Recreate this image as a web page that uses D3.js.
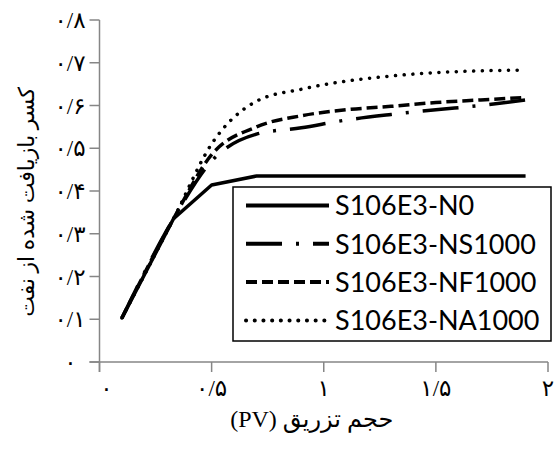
<!DOCTYPE html>
<html>
<head>
<meta charset="utf-8">
<script src="https://cdn.jsdelivr.net/npm/d3@7"></script>
<style>
  body { margin: 0; background: #fff; }
  .tick-label { font-family: "Liberation Serif", "DejaVu Sans", serif; font-size: 23px; fill: #000; }
  .axis-title { font-family: "Liberation Serif", "DejaVu Sans", serif; font-size: 22px; fill: #000; }
  .legend-text { font-family: Lato, "Open Sans", sans-serif; font-size: 27px; fill: #000; }
</style>
</head>
<body>
<script>
const width = 558;
const height = 450;

// injected pore volume (x) and recovered oil fraction (y)
const pv = [0.1, 0.33, 0.5, 0.7, 0.9, 1.1, 1.3, 1.5, 1.7, 1.9];
const pvN0 = [0.1, 0.33, 0.5, 0.7, 1.9];
const recN0 = [0.103, 0.335, 0.414, 0.435, 0.435];
const recNS = [0.103, 0.335, 0.47, 0.533, 0.548, 0.566, 0.579, 0.59, 0.60, 0.613];
const recNF = [0.103, 0.335, 0.485, 0.55, 0.576, 0.59, 0.598, 0.607, 0.613, 0.619];
const recNA = [0.103, 0.335, 0.51, 0.61, 0.638, 0.657, 0.669, 0.677, 0.681, 0.683];

const seriesNames = ["S106E3-N0", "S106E3-NS1000", "S106E3-NF1000", "S106E3-NA1000"];

const xTicks = [0, 0.5, 1, 1.5, 2];
const xTickLabels = ["۰", "۰/۵", "۱", "۱/۵", "۲"];
const yTicks = [0, 0.1, 0.2, 0.3, 0.4, 0.5, 0.6, 0.7, 0.8];
const yTickLabels = ["۰", "۰/۱", "۰/۲", "۰/۳", "۰/۴", "۰/۵", "۰/۶", "۰/۷", "۰/۸"];

const xTitle = "حجم تزریق (PV)";
const yTitle = "کسر بازیافت شده از نفت";

const dashes = ["none", "36 14 3 14", "11 5", "0.1 8.6"];
const caps = ["butt", "butt", "butt", "round"];

const series = [
  {name: seriesNames[0], pts: pvN0.map((x, i) => [x, recN0[i]]), curve: d3.curveLinear},
  {name: seriesNames[1], pts: pv.map((x, i) => [x, recNS[i]]), curve: d3.curveMonotoneX},
  {name: seriesNames[2], pts: pv.map((x, i) => [x, recNF[i]]), curve: d3.curveMonotoneX},
  {name: seriesNames[3], pts: pv.map((x, i) => [x, recNA[i]]), curve: d3.curveMonotoneX}
];

const x = d3.scaleLinear().domain([0, 2]).range([99.5, 548]);
const y = d3.scaleLinear().domain([0, 0.8]).range([362, 20]);

const svg = d3.select("body").append("svg")
    .attr("width", width)
    .attr("height", height);

// axes
const axisColor = "#868686";
svg.append("line")
    .attr("x1", x(0) - 10).attr("x2", x(2))
    .attr("y1", y(0)).attr("y2", y(0))
    .attr("stroke", axisColor).attr("stroke-width", 1.5);
svg.append("line")
    .attr("x1", x(0)).attr("x2", x(0))
    .attr("y1", y(0.8)).attr("y2", y(0) + 10)
    .attr("stroke", axisColor).attr("stroke-width", 1.5);

svg.selectAll(".ytick").data(yTicks).join("line")
    .attr("class", "ytick")
    .attr("x1", x(0) - 10).attr("x2", x(0))
    .attr("y1", d => y(d)).attr("y2", d => y(d))
    .attr("stroke", axisColor).attr("stroke-width", 1.5);

svg.selectAll(".xtick").data(xTicks).join("line")
    .attr("class", "xtick")
    .attr("x1", d => x(d)).attr("x2", d => x(d))
    .attr("y1", y(0)).attr("y2", y(0) + 10)
    .attr("stroke", axisColor).attr("stroke-width", 1.5);

svg.selectAll(".ylab").data(yTicks).join("text")
    .attr("class", "tick-label ylab")
    .attr("x", (d, i) => i === 0 ? x(0) - 29 : x(0) - 14)
    .attr("y", d => y(d))
    .attr("dy", "0.35em")
    .attr("text-anchor", (d, i) => i === 0 ? "middle" : "end")
    .attr("direction", "ltr")
    .text((d, i) => yTickLabels[i]);

svg.selectAll(".xlab").data(xTicks).join("text")
    .attr("class", "tick-label xlab")
    .attr("x", (d, i) => i === 0 ? x(d) + 7 : x(d))
    .attr("y", y(0) + 26)
    .attr("dy", "0.35em")
    .attr("text-anchor", "middle")
    .attr("direction", "ltr")
    .text((d, i) => xTickLabels[i]);

// titles
svg.append("text")
    .attr("class", "axis-title")
    .attr("x", (x(0) + x(2)) / 2 - 12)
    .attr("y", 419)
    .attr("dy", "0.35em")
    .attr("text-anchor", "middle")
    .attr("direction", "rtl")
    .style("font-size", "24px")
    .text(xTitle);

svg.append("text")
    .attr("class", "axis-title")
    .attr("transform", "translate(26," + 202 + ") rotate(-90)")
    .attr("dy", "0.35em")
    .attr("text-anchor", "middle")
    .attr("direction", "rtl")
    .text(yTitle);

// curves
const line = d3.line().x(d => x(d[0])).y(d => y(d[1]));

svg.selectAll(".curve").data(series).join("path")
    .attr("class", "curve")
    .attr("d", d => line.curve(d.curve)(d.pts))
    .attr("fill", "none")
    .attr("stroke", "#000")
    .attr("stroke-width", 3.5)
    .attr("stroke-linejoin", "round")
    .attr("stroke-dasharray", (d, i) => dashes[i])
    .attr("stroke-linecap", (d, i) => caps[i]);

// legend
const legend = svg.append("g").attr("transform", "translate(233,187)");
legend.append("rect")
    .attr("width", 318).attr("height", 154)
    .attr("fill", "#fff")
    .attr("stroke", "#000")
    .attr("stroke-width", 1.5);

const rows = legend.selectAll(".row").data(series).join("g")
    .attr("class", "row")
    .attr("transform", (d, i) => "translate(0," + (18.5 + i * 38.3) + ")");

rows.append("line")
    .attr("x1", 13).attr("x2", 96)
    .attr("stroke", "#000")
    .attr("stroke-width", 4)
    .attr("stroke-dasharray", (d, i) => dashes[i])
    .attr("stroke-linecap", (d, i) => caps[i]);

rows.append("text")
    .attr("class", "legend-text")
    .attr("x", 102)
    .attr("dy", "0.36em")
    .text(d => d.name);
</script>
</body>
</html>
